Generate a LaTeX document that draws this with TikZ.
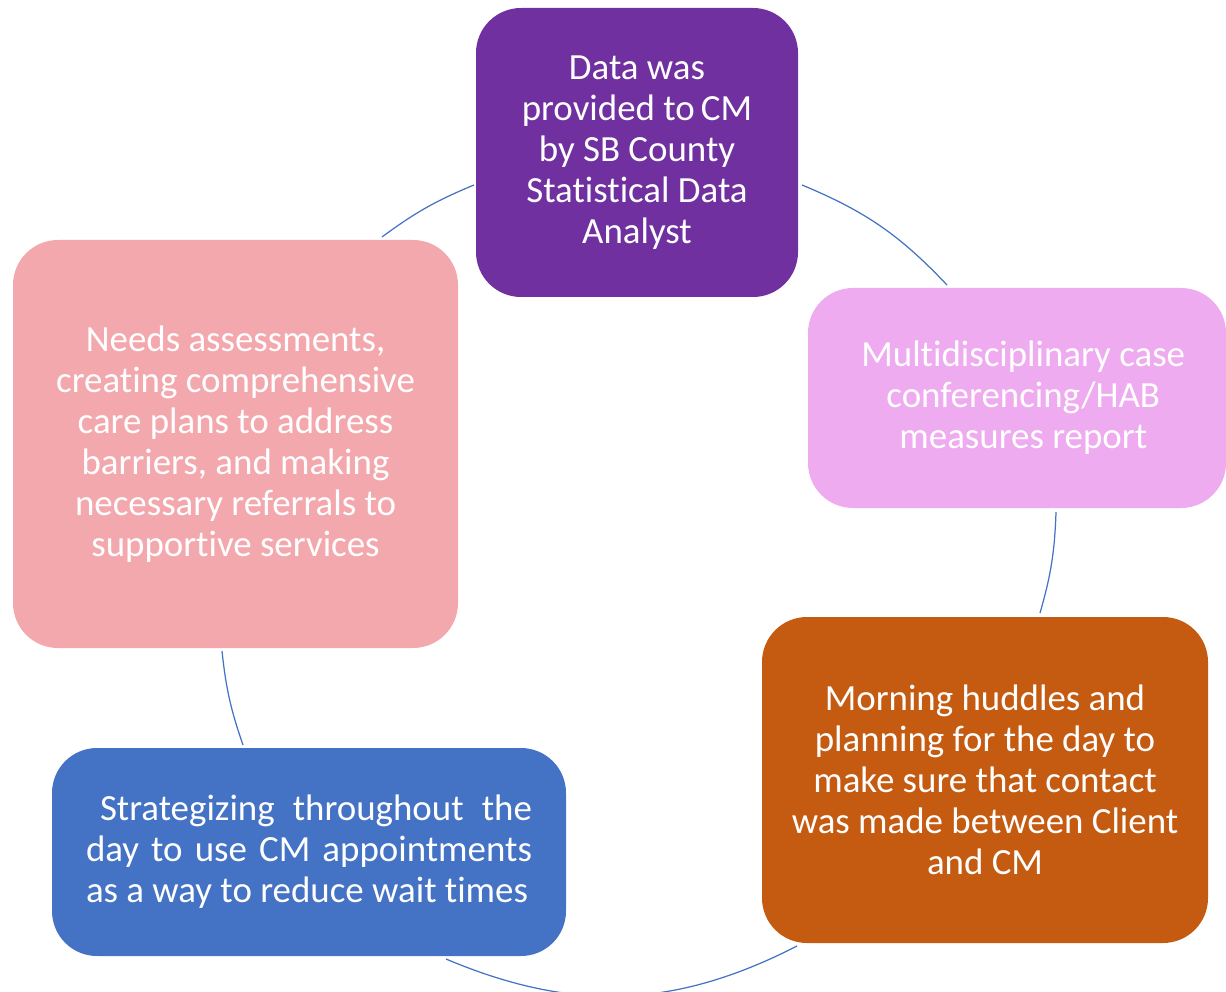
\documentclass[tikz,border=0pt]{standalone}
\usepackage{fontspec}
\setmainfont{Carlito}[RawFeature={-liga;-clig;-dlig;-calt}]
\usepackage{tikz}
\usetikzlibrary{calc}
\usepackage{xcolor}
\definecolor{roxo}{RGB}{112,48,160}
\definecolor{lilas}{RGB}{239,171,239}
\definecolor{laranja}{RGB}{197,90,17}
\definecolor{azul}{RGB}{68,114,196}
\definecolor{salmao}{RGB}{243,168,174}
\tikzset{
    caixa/.style={rounded corners=0.9cm, text=white, align=center, inner sep=0pt, font=\fontsize{21}{23.3}\selectfont},
    ligacao/.style={draw=azul, line width=0.7pt}
}

\begin{document}
\begin{tikzpicture}
    \useasboundingbox (0,0) rectangle (24.52,19.82);
    % etapas do ciclo
    \node[caixa, fill=roxo, minimum width=6.44cm, minimum height=5.78cm] (dados) at (12.74,16.77)
        {Data was\\provided to\,CM\\by SB County\\Statistical Data\\Analyst};
    \node[caixa, fill=lilas, minimum width=8.36cm, minimum height=4.40cm] (reuniao) at (20.34,11.86)
        {\hspace*{0.25cm}Multidisciplinary case\\\hspace*{0.25cm}conferencing/HAB\\\hspace*{0.25cm}measures report};
    \node[caixa, fill=laranja, minimum width=8.92cm, minimum height=6.52cm] (manha) at (19.70,4.22)
        {Morning huddles and\\planning for the day to\\make sure that contact\\was made between Client\\and CM};
    \node[caixa, fill=azul, minimum width=10.28cm, minimum height=4.16cm] (agenda) at (6.18,2.78)
        {\parbox{8.92cm}{\fontsize{21}{23.3}\selectfont\hspace*{0.28cm}Strategizing throughout the\linebreak day to use CM appointments\linebreak as a way to reduce wait times}};
    \node[caixa, fill=salmao, minimum width=8.90cm, minimum height=8.16cm] (planos) at (4.71,10.94)
        {Needs assessments,\\creating comprehensive\\care plans to address\\barriers, and making\\necessary referrals to\\supportive services};

    % pontas dos arcos
    \coordinate (a1) at (7.64,15.08);  \coordinate (b1) at (9.48,16.12);
    \coordinate (a2) at (16.04,16.12); \coordinate (b2) at (18.94,14.12);
    \coordinate (a3) at (21.12,9.58);  \coordinate (b3) at (20.80,7.56);
    \coordinate (a4) at (15.94,0.90);  \coordinate (b4) at (8.92,0.64);
    \coordinate (a5) at (4.86,4.92);   \coordinate (b5) at (4.44,6.80);

    \draw[ligacao] (a1) to[bend left=7] (b1);
    \draw[ligacao] (a2) to[bend left=12] (b2);
    \draw[ligacao] (a3) to[bend left=7] (b3);
    \draw[ligacao] (a4) to[bend left=25] (b4);
    \draw[ligacao] (a5) to[bend left=6.5] (b5);
\end{tikzpicture}
\end{document}
